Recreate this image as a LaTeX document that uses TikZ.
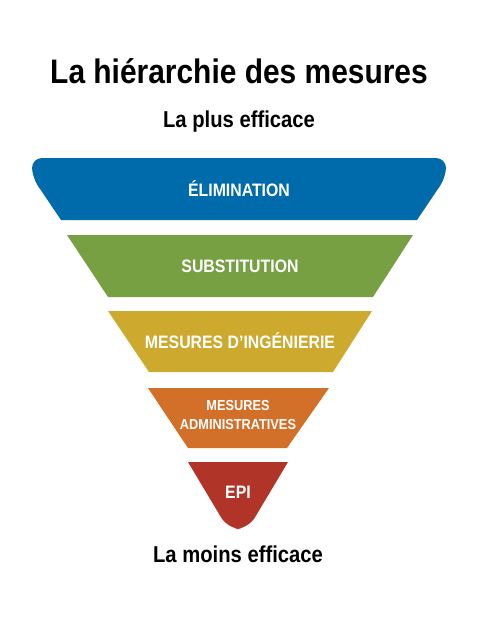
\documentclass[tikz,border=0pt]{standalone}
\usepackage{fontspec}
\setmainfont{Liberation Sans}[FakeStretch=0.88]
\begin{document}
\begin{tikzpicture}[x = 1pt, y = -1pt]
\useasboundingbox (0,0) rectangle (477,626);
\tikzset{bandlabel/.style = {text = white, anchor = base, font = \fontsize{18}{20}\selectfont\bfseries},
  headline/.style = {anchor = base, font = \fontsize{23}{28}\selectfont\bfseries}}
\definecolor{elimcolor}{RGB}{0,107,170}
\definecolor{substcolor}{RGB}{118,160,66}
\definecolor{ingecolor}{RGB}{205,170,46}
\definecolor{admincolor}{RGB}{210,112,42}
\definecolor{epicolor}{RGB}{176,52,40}
\node[anchor = base, font = \fontsize{34}{40}\selectfont\bfseries] (title) at (239,84) {La hiérarchie des mesures};
\node[headline] (most) at (239,127) {La plus efficace};
\node[headline] (least) at (238,562) {La moins efficace};
% top band
\fill[elimcolor] (61,220) [rounded corners = 10pt] -- (32,177) -- (32,158) -- (446,158) -- (446,177) [sharp corners] -- (417,220) -- cycle;
% middle bands
\foreach \tl/\tr/\bl/\br/\yt/\yb/\col in {67/413/108/373/235/297/substcolor, 108/372/149/333/311/372/ingecolor, 148/329/188/287/388/448/admincolor}
  \fill[\col] (\tl,\yt) -- (\tr,\yt) -- (\br,\yb) -- (\bl,\yb) -- cycle;
% bottom band
\fill[epicolor] (188,462) -- (288,462) [rounded corners = 13pt] -- (248,529) -- (228,529) [sharp corners] -- cycle;
\node[bandlabel] (elim) at (239,196) {ÉLIMINATION};
\node[bandlabel] (subst) at (240,272) {SUBSTITUTION};
\node[bandlabel] (inge) at (240,348) {MESURES D’INGÉNIERIE};
\node[bandlabel, anchor = center, align = center, font = \fontsize{14.5}{19}\selectfont\bfseries] (admin) at (238,415) {MESURES\\ADMINISTRATIVES};
\node[bandlabel] (epi) at (238,498) {EPI};
\end{tikzpicture}
\end{document}
